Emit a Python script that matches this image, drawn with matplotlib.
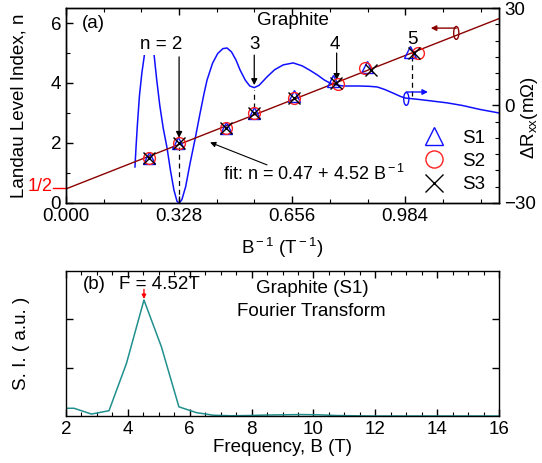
import matplotlib
matplotlib.use("Agg")
import matplotlib.pyplot as plt
from matplotlib.patches import Ellipse
from matplotlib.ticker import MultipleLocator, FixedLocator
import numpy as np

plt.rcParams['font.family'] = ['Liberation Sans', 'DejaVu Sans']
plt.rcParams['mathtext.fontset'] = 'custom'
plt.rcParams['mathtext.rm'] = 'Liberation Sans'
plt.rcParams['mathtext.it'] = 'Liberation Sans'
plt.rcParams['axes.linewidth'] = 1.0

# ---------------- data ----------------
# Landau level index vs inverse field for three samples
n_levels = [1.5, 2.0, 2.5, 3.0, 3.5, 4.0, 4.5, 5.0]
s1_binv = [0.241, 0.326, 0.464, 0.546, 0.662, 0.775, 0.874, 0.997]
s1_n = [1.5, 2.0, 2.5, 3.0, 3.55, 4.05, 4.55, 5.05]
s2_binv = [0.241, 0.328, 0.464, 0.546, 0.660, 0.790, 0.868, 1.021]
s2_n = [1.5, 2.0, 2.5, 3.0, 3.5, 3.95, 4.5, 5.0]
s3_binv = [0.241, 0.328, 0.464, 0.546, 0.662, 0.784, 0.884, 1.010]
s3_n = [1.5, 2.0, 2.5, 3.0, 3.5, 4.0, 4.45, 5.0]

# linear fit n = n0 + F * B^-1
fit_n0 = 0.47
fit_F = 4.52

# oscillatory magnetoresistance (sample S1) vs inverse field
dR_binv = [0.200, 0.203, 0.207, 0.213, 0.220, 0.228, 0.236, 0.242, 0.248,
           0.255, 0.263, 0.272, 0.282, 0.293, 0.303, 0.313, 0.322, 0.328,
           0.336, 0.347, 0.360, 0.375, 0.389, 0.400, 0.409, 0.425, 0.440,
           0.455, 0.467, 0.480, 0.493, 0.505, 0.520, 0.533, 0.546, 0.560,
           0.583, 0.605, 0.630, 0.659, 0.685, 0.708, 0.729, 0.750, 0.766,
           0.785, 0.804, 0.850, 0.880, 0.903, 0.925, 0.949, 0.970, 0.984,
           1.020, 1.060, 1.106, 1.150, 1.200, 1.256]
dR_val = [-18.9, -13.0, -6.0, 3.0, 10.0, 16.0, 20.0, 21.0, 20.0,
          16.0, 8.0, 0.0, -7.0, -13.0, -20.0, -26.0, -29.5, -30.0,
          -29.0, -25.0, -17.7, -10.0, -2.3, 3.5, 7.8, 13.0, 16.0,
          17.5, 17.7, 16.5, 14.0, 10.9, 7.8, 6.0, 5.5, 6.2,
          8.8, 11.0, 12.5, 13.1, 12.2, 10.8, 9.4, 7.8, 6.9,
          6.3, 6.0, 6.0, 5.9, 5.7, 4.9, 3.8, 2.8, 2.3,
          1.9, 1.4, 0.8, 0.0, -1.2, -2.3]

# Fourier spectrum of the S1 oscillations
ft_freq = [1.695, 2.26, 2.825, 3.39, 3.955, 4.52, 5.085, 5.65, 6.215,
           6.78, 7.345, 7.91, 8.475, 9.04, 9.605, 10.17, 10.735, 11.3,
           11.865, 12.43, 12.995, 13.56, 14.125, 14.69, 15.255, 15.82, 16.385]
ft_amp = [0.16, 0.16, 0.04, 0.11, 1.09, 2.40, 1.43, 0.19, 0.07,
          0.015, 0.005, 0.01, 0.02, 0.025, 0.03, 0.025, 0.01, 0.005,
          0.0, 0.0, 0.0, 0.0, 0.0, 0.0, 0.0, 0.0, 0.0]

top_xticks = [0.000, 0.328, 0.656, 0.984]
top_xticklabels = ['0.000', '0.328', '0.656', '0.984']

FS = 13.5
fig = plt.figure(figsize=(5.42, 4.63), dpi=100)

# ---------------- panel (a) ----------------
ax1 = fig.add_axes([0.1218, 0.5616, 0.7989, 0.4211])
ax2 = ax1.twinx()
ax1.set_zorder(ax2.get_zorder() + 1)
ax1.patch.set_visible(False)

xmax = 1.256
ax1.set_xlim(0, xmax)
ax1.set_ylim(0, 6.5)
ax2.set_ylim(-30, 30)

ax2.plot(dR_binv, dR_val, color='#1010ff', lw=1.1)

xfit = np.array([0.0, xmax])
ax1.plot(xfit, fit_n0 + fit_F * xfit, color='#8b0000', lw=1.0, zorder=2)

ms = 8.5
ax1.plot(s1_binv, s1_n, ls='none', marker='^', ms=ms, mfc='none', mec='#1010ff', mew=1.0, label='S1', zorder=4)
ax1.plot(s2_binv, s2_n, ls='none', marker='o', ms=ms, mfc='none', mec='#ff2020', mew=1.0, label='S2', zorder=4)
ax1.plot(s3_binv, s3_n, ls='none', marker='x', ms=ms, mfc='none', mec='black', mew=1.0, label='S3', zorder=5)

ax1.set_xticks(top_xticks)
ax1.set_xticklabels(top_xticklabels)
ax1.xaxis.set_minor_locator(MultipleLocator(0.328 / 3))
ax1.yaxis.set_major_locator(FixedLocator([0, 2, 4, 6]))
ax1.yaxis.set_minor_locator(FixedLocator([1, 3, 5]))
ax2.yaxis.set_major_locator(FixedLocator([-30, 0, 30]))
ax2.yaxis.set_minor_locator(MultipleLocator(5))
for a in (ax1, ax2):
    a.tick_params(which='both', direction='in', labelsize=FS, top=True)
    a.tick_params(which='major', length=5, width=1.0)
    a.tick_params(which='minor', length=3, width=0.8)
ax1.tick_params(axis='y', which='both', right=False)
ax2.tick_params(axis='y', which='both', left=False)

ax1.set_ylabel('Landau Level Index, n', fontsize=FS)
ax1.yaxis.set_label_coords(-0.09, 0.5)
fig.text(530 / 542, 1 - 118 / 463, r'$\Delta$R$_{\rm xx}$(m$\Omega$)', fontsize=FS,
         rotation=90, ha='center', va='center')
ax1.set_xlabel(r'B$^{\rm -1}$ (T$^{\rm -1}$)', fontsize=FS, labelpad=8)

# intercept marker 1/2
ax1.plot([-0.031, 0.0], [0.5, 0.5], color='red', lw=1.0, clip_on=False,
         transform=ax1.get_yaxis_transform())
ax1.text(-0.032, 0.55, '1/2', color='red', fontsize=13, ha='right', va='center',
         transform=ax1.get_yaxis_transform())

ax1.text(0.045, 6.0, '(a)', fontsize=FS, ha='left', va='center')
ax1.text(0.659, 6.1, 'Graphite', fontsize=FS, ha='center', va='center')

arrow_kw = dict(arrowstyle='-|>', color='black', lw=0.9, mutation_scale=9, shrinkA=0, shrinkB=0)
# n = 2
ax1.text(0.276, 5.30, 'n = 2', fontsize=FS, ha='center', va='center', zorder=6,
         bbox=dict(facecolor='white', edgecolor='none', pad=1.5))
ax1.annotate('', xy=(0.328, 2.17), xytext=(0.328, 4.87), arrowprops=arrow_kw)
ax1.plot([0.328, 0.328], [0.0, 1.85], color='black', lw=0.9, ls=(0, (4, 3)))
# 3
ax1.text(0.546, 5.30, '3', fontsize=FS, ha='center', va='center')
ax1.annotate('', xy=(0.546, 3.93), xytext=(0.546, 4.93), arrowprops=arrow_kw)
ax1.plot([0.546, 0.546], [3.15, 3.75], color='black', lw=0.9, ls=(0, (4, 3)))
# 4
ax1.text(0.781, 5.30, '4', fontsize=FS, ha='center', va='center')
ax1.annotate('', xy=(0.785, 4.1), xytext=(0.785, 5.0), arrowprops=arrow_kw)
# 5
ax1.text(1.004, 5.45, '5', fontsize=FS, ha='center', va='center')
ax1.plot([1.004, 1.004], [3.55, 4.9], color='black', lw=0.9, ls=(0, (4, 3)))

# fit annotation
ax1.text(0.456, 0.97, r'fit: n = 0.47 + 4.52 B$^{\rm -1}$', fontsize=13, ha='left', va='center')
ax1.annotate('', xy=(0.418, 2.02), xytext=(0.583, 1.27),
             arrowprops=dict(arrowstyle='-|>', color='black', lw=0.8, mutation_scale=8,
                             shrinkA=0, shrinkB=0))

# axis indicators
ax1.add_patch(Ellipse((1.132, 5.67), 0.015, 0.43, fill=False, ec='#8b0000', lw=1.0, zorder=5))
ax1.annotate('', xy=(1.058, 5.83), xytext=(1.132, 5.83),
             arrowprops=dict(arrowstyle='-|>', color='#8b0000', lw=1.0, mutation_scale=8,
                             shrinkA=0, shrinkB=0))
ax1.add_patch(Ellipse((0.987, 3.47), 0.015, 0.43, fill=False, ec='#1010ff', lw=1.0, zorder=5))
ax1.annotate('', xy=(1.050, 3.70), xytext=(0.987, 3.70),
             arrowprops=dict(arrowstyle='-|>', color='#1010ff', lw=1.0, mutation_scale=8,
                             shrinkA=0, shrinkB=0))

leg = ax1.legend(loc='lower right', bbox_to_anchor=(0.968, 0.05), frameon=False,
                 fontsize=FS, markerscale=1.45, handlelength=1.0, handletextpad=1.0,
                 labelspacing=0.33, borderaxespad=0, borderpad=0)

# ---------------- panel (b) ----------------
ax3 = fig.add_axes([0.1218, 0.1015, 0.7989, 0.3132])
ax3.plot(ft_freq, ft_amp, color='#20908f', lw=1.1)
ax3.set_xlim(2, 16)
ax3.set_ylim(0, 3.0)
ax3.xaxis.set_major_locator(MultipleLocator(2))
ax3.xaxis.set_minor_locator(MultipleLocator(0.5))
ax3.yaxis.set_major_locator(FixedLocator([1, 2]))
ax3.set_yticklabels([])
ax3.tick_params(which='both', direction='in', labelsize=FS, top=True, right=True)
ax3.tick_params(which='major', length=5, width=1.0)
ax3.tick_params(which='minor', length=3, width=0.8)
ax3.set_xlabel('Frequency, B (T)', fontsize=FS, labelpad=1)
ax3.set_ylabel('S. I. ( a.u. )', fontsize=FS)
ax3.yaxis.set_label_coords(-0.083, 0.5)

ax3.text(2.53, 2.73, '(b)', fontsize=FS, ha='left', va='center')
ax3.text(5.03, 2.73, 'F = 4.52T', fontsize=FS, ha='center', va='center')
ax3.annotate('', xy=(4.52, 2.42), xytext=(4.52, 2.62),
             arrowprops=dict(arrowstyle='-|>', color='red', lw=1.0, mutation_scale=6,
                             shrinkA=0, shrinkB=0))
ax3.text(9.95, 2.63, 'Graphite (S1)', fontsize=FS, ha='center', va='center')
ax3.text(9.93, 2.17, 'Fourier Transform', fontsize=FS, ha='center', va='center')

fig.savefig('out.png', dpi=100)
